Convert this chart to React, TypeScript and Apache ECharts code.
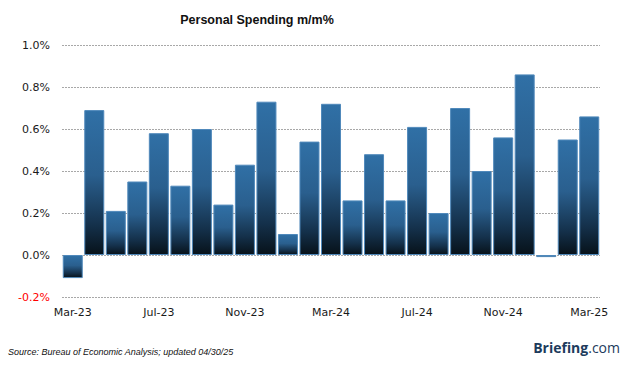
import React, { useEffect, useRef } from "react";
import * as echarts from "echarts";

const categories = [
  "Mar-23", "Apr-23", "May-23", "Jun-23", "Jul-23", "Aug-23", "Sep-23", "Oct-23", "Nov-23", "Dec-23",
  "Jan-24", "Feb-24", "Mar-24", "Apr-24", "May-24", "Jun-24", "Jul-24", "Aug-24", "Sep-24", "Oct-24",
  "Nov-24", "Dec-24", "Jan-25", "Feb-25", "Mar-25",
];
const spending = [
  -0.11, 0.69, 0.21, 0.35, 0.58, 0.33, 0.6, 0.24, 0.43, 0.73,
  0.1, 0.54, 0.72, 0.26, 0.48, 0.26, 0.61, 0.2, 0.7, 0.4,
  0.56, 0.86, -0.01, 0.55, 0.66,
];
const titleText = "Personal Spending m/m%";
const sourceText = "Source: Bureau of Economic Analysis; updated 04/30/25";

export default function App() {
  const ref = useRef<HTMLDivElement>(null);
  useEffect(() => {
    if (!ref.current) return;
    const chart = echarts.init(ref.current, undefined, { renderer: "svg" });
    const barColor = new echarts.graphic.LinearGradient(0, 0, 0, 1, [
      { offset: 0, color: "#3070a6" },
      { offset: 0.45, color: "#2a5f8e" },
      { offset: 0.8, color: "#14304a" },
      { offset: 1, color: "#07121a" },
    ]);
    chart.setOption({
      animation: false,
      backgroundColor: "#ffffff",
      grid: { left: 62, right: 26, top: 45, bottom: 70 },
      xAxis: {
        type: "category",
        data: categories,
        axisLine: { show: false },
        axisTick: { show: false },
        axisLabel: {
          interval: 3,
          margin: 10,
          fontFamily: "DejaVu Sans",
          fontSize: 11,
          color: "#1a1a1a",
        },
      },
      yAxis: {
        type: "value",
        min: -0.2,
        max: 1.0,
        interval: 0.2,
        axisLine: { show: false },
        axisTick: { show: false },
        splitLine: { lineStyle: { color: "#a8a8a8", type: [2, 1], width: 1 } },
        axisLabel: {
          margin: 12,
          fontFamily: "DejaVu Sans",
          fontSize: 11,
          formatter: (v: number) => v.toFixed(1) + "%",
          color: (v: any) => (Number(v) < 0 ? "#ff0000" : "#1a1a1a"),
        },
      },
      series: [
        {
          type: "bar",
          data: spending,
          barWidth: 20,
          itemStyle: { color: barColor, borderColor: "#5089bb", borderWidth: 1 },
        },
      ],
      graphic: [
        {
          type: "text",
          x: 257,
          y: 20,
          style: {
            text: titleText,
            fontFamily: "Liberation Sans",
            fontWeight: "bold",
            fontSize: 12.5,
            fill: "#111111",
            align: "center",
            verticalAlign: "middle",
          },
        },
        {
          type: "text",
          x: 8,
          y: 352,
          style: {
            text: sourceText,
            fontFamily: "Liberation Sans",
            fontStyle: "italic",
            fontSize: 9,
            fill: "#111111",
            align: "left",
            verticalAlign: "middle",
          },
        },
        {
          type: "text",
          x: 620,
          y: 347,
          style: {
            text: "{b|Briefing}{c|.com}",
            align: "right",
            verticalAlign: "middle",
            rich: {
              b: { fontFamily: "Open Sans", fontWeight: "bold", fontSize: 14, fill: "#1d3b5c", color: "#1d3b5c" } as any,
              c: { fontFamily: "Open Sans", fontWeight: "normal", fontSize: 14, fill: "#1d3b5c", color: "#1d3b5c" } as any,
            },
          },
        },
      ],
    });
    return () => chart.dispose();
  }, []);
  return <div ref={ref} style={{ width: 626, height: 367, position: "absolute", left: 0, top: 0 }} />;
}
